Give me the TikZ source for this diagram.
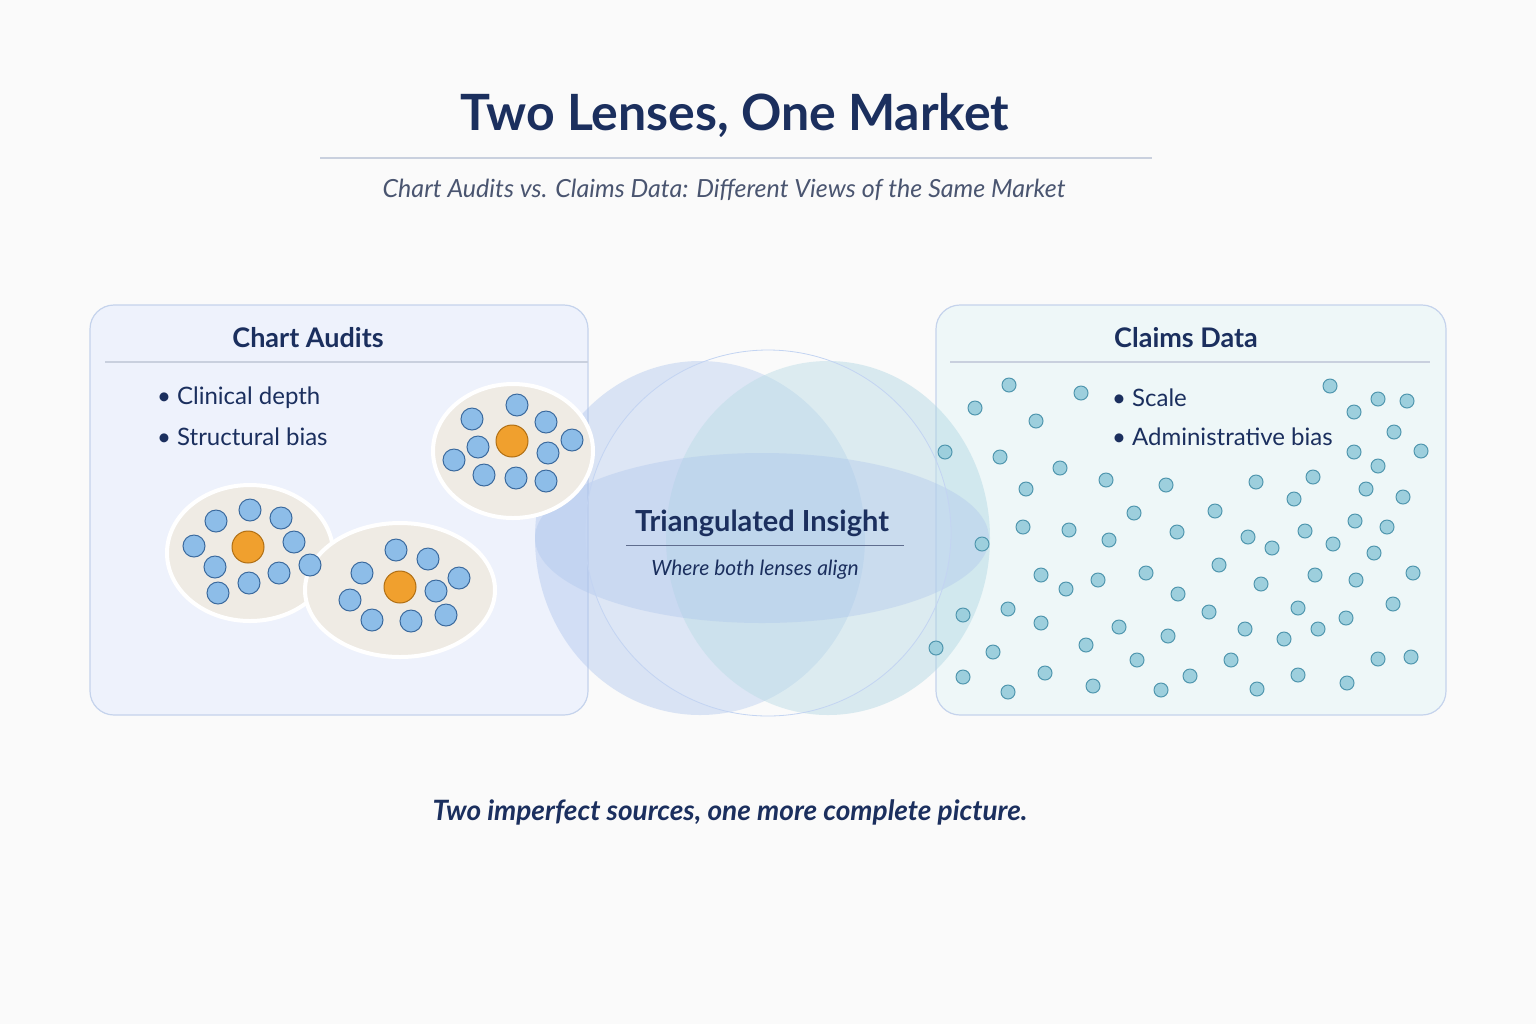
\documentclass[tikz,border=0pt]{standalone}
\usepackage{fontspec}
\setmainfont{Lato}
\usetikzlibrary{positioning}
\definecolor{navy}{HTML}{1B2F5E}
\definecolor{subgrey}{HTML}{4A5570}
\definecolor{rule}{HTML}{C9D0DE}
\definecolor{leftfill}{HTML}{EEF2FC}
\definecolor{rightfill}{HTML}{EEF7F8}
\definecolor{paneledge}{HTML}{C5D3EC}
\definecolor{lensblue}{HTML}{A9C2EC}
\definecolor{lensteal}{HTML}{AFD6E2}
\definecolor{clusterfill}{HTML}{EFEBE4}
\definecolor{patient}{HTML}{8DBDE8}
\definecolor{patientedge}{HTML}{3B6A9E}
\definecolor{hub}{HTML}{F0A02E}
\definecolor{hubedge}{HTML}{B06E12}
\definecolor{claimdot}{HTML}{9DCFDD}
\definecolor{claimedge}{HTML}{4F96AE}
\tikzset{
  panel/.style={rounded corners=12pt, draw=paneledge, line width=0.6pt},
  heading/.style={font=\bfseries\fontsize{13.5}{16}\selectfont, text=navy},
  bullet/.style={anchor=west, font=\fontsize{12}{14}\selectfont, text=navy},
  cluster/.style={fill=clusterfill, draw=white, line width=2pt},
  pdot/.style={circle, fill=patient, draw=patientedge, line width=0.5pt, minimum size=11pt, inner sep=0pt},
  hdot/.style={circle, fill=hub, draw=hubedge, line width=0.5pt, minimum size=16pt, inner sep=0pt},
  cdot/.style={circle, fill=claimdot, draw=claimedge, line width=0.5pt, minimum size=7pt, inner sep=0pt}
}
\begin{document}
\begin{tikzpicture}[x=0.5pt, y=-0.5pt]
\fill[white!98!black] (0,0) rectangle (1536,1024);
\useasboundingbox (0,0) rectangle (1536,1024);

% title
\node[font=\bfseries\fontsize{25}{29}\selectfont, text=navy] (title) at (735,115) {Two Lenses, One Market};
\draw[rule, line width=0.6pt] (320,158) -- (1152,158);
\node[font=\itshape\fontsize{12.5}{15}\selectfont, text=subgrey] (subtitle) at (724,190)
  {Chart Audits vs. Claims Data: Different Views of the Same Market};

% panels
\draw[panel, fill=leftfill] (90,305) rectangle (588,715);
\draw[panel, fill=rightfill] (936,305) rectangle (1446,715);
\node[heading] (charthead) at (308,338) {Chart Audits};
\node[heading] (claimshead) at (1186,338) {Claims Data};
\draw[rule, line width=0.6pt] (105,362) -- (588,362);
\draw[rule, line width=0.6pt] (950,362) -- (1430,362);
\node[bullet] (depth) at (150,398) {\textbullet\ Clinical depth};
\node[bullet] (sbias) at (150,437) {\textbullet\ Structural bias};
\node[bullet] (scale) at (1105,398) {\textbullet\ Scale};
\node[bullet] (abias) at (1105,437) {\textbullet\ Administrative bias};

% lenses
\fill[lensblue, opacity=0.4] (700,538) ellipse (165 and 177);
\fill[lensteal, opacity=0.45] (828,538) ellipse (162 and 177);
\fill[white, opacity=0.12] (768,533) circle (183);
\fill[lensblue, opacity=0.35] (762,538) ellipse (227 and 85);
\draw[lensblue!70!white, line width=0.4pt] (768,533) circle (183);

% chart clusters
\draw[cluster] (513,451) ellipse (80 and 67);
\draw[cluster] (250,553) ellipse (83 and 68);
\draw[cluster] (400,590) ellipse (95 and 67);
\foreach \x/\y [count=\i] in {472/419,517/405,546/422,572/440,478/447,454/460,548/453,484/475,516/478,546/481,
  216/521,250/510,281/518,194/546,294/542,215/567,249/583,279/573,310/565,218/593,
  396/550,428/559,362/573,459/578,436/591,350/600,372/620,411/621,446/615}
  \node[pdot] (p\i) at (\x,\y) {};
\node[hdot] (hubA) at (512,441) {};
\node[hdot] (hubB) at (248,547) {};
\node[hdot] (hubC) at (400,587) {};

% claims scatter
\foreach \x/\y [count=\i] in {975/408,1009/385,1036/421,1081/393,945/452,1000/457,1060/468,1026/489,1106/480,1166/485,
  1134/513,1215/511,1256/482,1294/499,1313/477,1330/386,1354/412,1378/399,1407/401,1394/432,
  1354/452,1378/466,1421/451,1366/489,1403/497,1023/527,1069/530,1109/540,1177/532,1248/537,
  1272/548,1305/531,1333/544,1355/521,1387/527,1374/553,982/544,1041/575,1066/589,1098/580,
  1146/573,1178/594,1219/565,1261/584,1315/575,1356/580,1413/573,963/615,1008/609,1041/623,
  1119/627,1086/645,1168/636,1209/612,1245/629,1284/639,1298/608,1318/629,1346/618,1393/604,
  936/648,993/652,963/677,1008/692,1045/673,1093/686,1137/660,1161/690,1190/676,1231/660,
  1257/689,1298/675,1347/683,1378/659,1411/657}
  \node[cdot] (c\i) at (\x,\y) {};

% overlap label
\node[font=\bfseries\fontsize{14.5}{17}\selectfont, text=navy] (insight) at (762,523) {Triangulated Insight};
\draw[navy!70, line width=0.5pt] (626,545) -- (904,545);
\node[font=\itshape\fontsize{10.5}{13}\selectfont, text=navy] (align) at (755,570) {Where both lenses align};

% footer
\node[font=\bfseries\itshape\fontsize{14}{17}\selectfont, text=navy] (footer) at (730,812)
  {Two imperfect sources, one more complete picture.};
\end{tikzpicture}
\end{document}
